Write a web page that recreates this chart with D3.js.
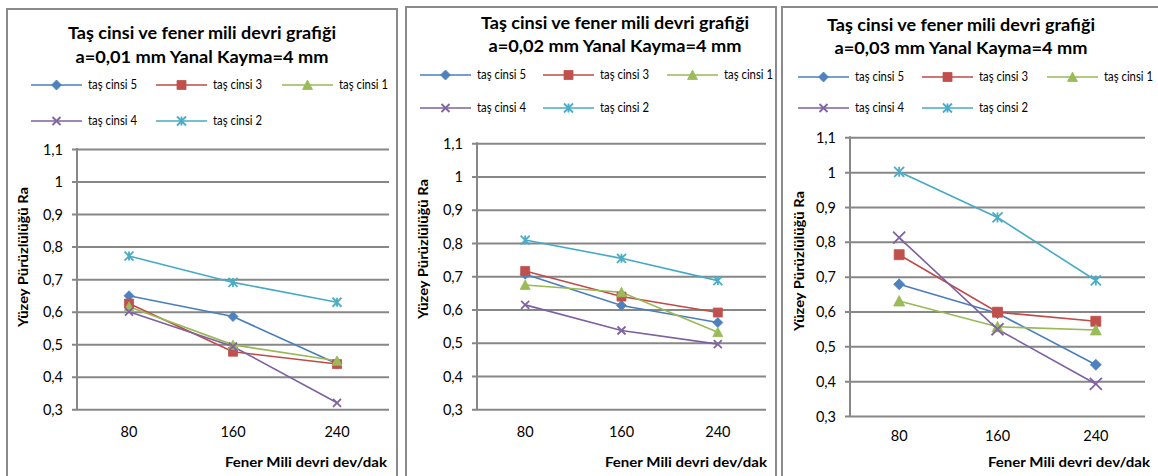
<!DOCTYPE html>
<html>
<head>
<meta charset="utf-8">
<script src="https://cdn.jsdelivr.net/npm/d3@7"></script>
<style>
  html, body { margin: 0; padding: 0; background: #fff; }
  svg { display: block; font-family: Lato, "Open Sans", sans-serif; }
</style>
</head>
<body>
<svg id="chart" width="1158" height="476"></svg>
<script>
// Categories (spindle speed, dev/dak) and y tick values
const categories = ["80", "160", "240"];
const yTicks = [0.3, 0.4, 0.5, 0.6, 0.7, 0.8, 0.9, 1.0, 1.1];
const seriesNames = ["taş cinsi 5", "taş cinsi 3", "taş cinsi 1", "taş cinsi 4", "taş cinsi 2"];

// Surface roughness Ra, a = 0,01 mm
const tas5_a001 = [0.649, 0.585, 0.44];
const tas3_a001 = [0.625, 0.477, 0.439];
const tas1_a001 = [0.615, 0.498, 0.449];
const tas4_a001 = [0.600, 0.493, 0.320];
const tas2_a001 = [0.771, 0.690, 0.629];

// a = 0,02 mm
const tas5_a002 = [0.706, 0.612, 0.561];
const tas3_a002 = [0.716, 0.639, 0.591];
const tas1_a002 = [0.674, 0.652, 0.532];
const tas4_a002 = [0.614, 0.537, 0.496];
const tas2_a002 = [0.809, 0.754, 0.687];

// a = 0,03 mm
const tas5_a003 = [0.678, 0.595, 0.447];
const tas3_a003 = [0.763, 0.598, 0.572];
const tas1_a003 = [0.630, 0.556, 0.547];
const tas4_a003 = [0.812, 0.549, 0.392];
const tas2_a003 = [1.001, 0.870, 0.689];

const titleLine1 = "Taş cinsi ve fener mili devri grafiği";
const titleLines2 = ["a=0,01 mm Yanal Kayma=4 mm", "a=0,02 mm Yanal Kayma=4 mm", "a=0,03 mm Yanal Kayma=4 mm"];
const xTitle = "Fener Mili devri dev/dak";
const yTitle = "Yüzey Pürüzlülüğü Ra";

// Series styling: line colour, marker fill/stroke, marker type
const styles = [
  { line: "#4A7EBB", fill: "#4F81BD", marker: "diamond" },
  { line: "#BE4B48", fill: "#C0504D", marker: "square" },
  { line: "#98B954", fill: "#9BBB59", marker: "triangle" },
  { line: "#7D60A0", fill: "#8064A2", marker: "x" },
  { line: "#46AAC5", fill: "#4BACC6", marker: "star" }
];

const panelData = [
  [tas5_a001, tas3_a001, tas1_a001, tas4_a001, tas2_a001],
  [tas5_a002, tas3_a002, tas1_a002, tas4_a002, tas2_a002],
  [tas5_a003, tas3_a003, tas1_a003, tas4_a003, tas2_a003]
];

// Layout of the three chart frames
const panels = [
  { bx: 7, by: 9, bw: 390, plot: { l: 77, r: 389, t: 149, b: 409.3 },
    title: { cx: 202, y1: 39, y2: 63 },
    legend: { rows: [85, 121], cols: [31, 156, 282] },
    yTitle: { x: 23, y: 257 }, xTitleRight: 387, xLabelY: 437, mk: 9, xMk: 8 },
  { bx: 406, by: 7, bw: 370, plot: { l: 477, r: 766, t: 143.3, b: 409.3 },
    title: { cx: 615, y1: 29, y2: 52 },
    legend: { rows: [75, 108], cols: [420, 543, 667] },
    yTitle: { x: 423, y: 249 }, xTitleRight: 767, xLabelY: 437, mk: 9, xMk: 8 },
  { bx: 782, by: 7, bw: 400, plot: { l: 850, r: 1145, t: 137.3, b: 416 },
    title: { cx: 961, y1: 31, y2: 54 },
    legend: { rows: [77, 108], cols: [798, 922, 1047] },
    yTitle: { x: 799, y: 261 }, xTitleRight: 1150, xLabelY: 441, mk: 10, xMk: 12 }
];

const gridColor = "#878787";

function markerPath(type, s) {
  const h = s / 2;
  switch (type) {
    case "diamond": return `M0,${-h-0.5}L${h+0.5},0L0,${h+0.5}L${-h-0.5},0Z`;
    case "square": return `M${-h},${-h}H${h}V${h}H${-h}Z`;
    case "triangle": return `M0,${-h-0.5}L${h+0.5},${h}L${-h-0.5},${h}Z`;
    case "x": return `M${-h},${-h}L${h},${h}M${h},${-h}L${-h},${h}`;
    case "star": return `M${-h},${-h}L${h},${h}M${h},${-h}L${-h},${h}M0,${-h}V${h}`;
  }
}

function drawMarker(g, st, x, y, s, xs) {
  const stroked = st.marker === "x" || st.marker === "star";
  g.append("path")
    .attr("transform", `translate(${x},${y})`)
    .attr("d", markerPath(st.marker, st.marker === "x" ? xs : s))
    .attr("fill", stroked ? "none" : st.fill)
    .attr("stroke", st.fill)
    .attr("stroke-width", stroked ? 1.8 : 0.8);
}

const svg = d3.select("#chart");

panels.forEach((p, pi) => {
  const g = svg.append("g");

  // frame
  g.append("rect")
    .attr("x", p.bx).attr("y", p.by)
    .attr("width", p.bw).attr("height", 500)
    .attr("fill", "#fff").attr("stroke", "#8a8a8a").attr("stroke-width", 2);

  // title
  g.append("text").attr("x", p.title.cx).attr("y", p.title.y1)
    .attr("text-anchor", "middle").attr("font-weight", "bold").attr("font-size", 17.5)
    .attr("textLength", 268).attr("lengthAdjust", "spacingAndGlyphs")
    .attr("fill", "#000").text(titleLine1);
  g.append("text").attr("x", p.title.cx).attr("y", p.title.y2)
    .attr("text-anchor", "middle").attr("font-weight", "bold").attr("font-size", 17.5)
    .attr("textLength", 253).attr("lengthAdjust", "spacingAndGlyphs")
    .attr("fill", "#000").text(titleLines2[pi]);

  // scales
  const x = d3.scaleBand().domain(categories).range([p.plot.l, p.plot.r]).padding(0);
  const cx = c => x(c) + x.bandwidth() / 2;
  const y = d3.scaleLinear().domain([0.3, 1.1]).range([p.plot.b, p.plot.t]);

  // horizontal gridlines with y axis ticks
  const yAxis = d3.axisLeft(y).tickValues(yTicks)
    .tickSize(-(p.plot.r - p.plot.l)).tickSizeOuter(0)
    .tickFormat(d => d3.format(".1~f")(d).replace(".", ","));
  const ya = g.append("g").attr("transform", `translate(${p.plot.l},0)`).call(yAxis);
  ya.select(".domain").remove();
  ya.selectAll(".tick line")
    .attr("x1", -5).attr("stroke", gridColor).attr("stroke-width", 2);
  ya.selectAll(".tick text")
    .attr("x", -14).attr("dy", "0.35em")
    .attr("font-size", 14.5).attr("font-family", "Lato, sans-serif").attr("fill", "#000");

  // vertical axis line
  g.append("line").attr("x1", p.plot.l).attr("x2", p.plot.l)
    .attr("y1", p.plot.t - 1).attr("y2", p.plot.b + 1)
    .attr("stroke", gridColor).attr("stroke-width", 2);

  // category labels
  const xAxis = d3.axisBottom(x).tickSize(0).tickSizeOuter(0);
  const xa = g.append("g").attr("transform", `translate(0,${p.plot.b})`).call(xAxis);
  xa.select(".domain").remove();
  xa.selectAll(".tick text")
    .attr("y", p.xLabelY - p.plot.b).attr("dy", 0)
    .attr("font-size", 14.5).attr("font-family", "Lato, sans-serif").attr("fill", "#000");

  // axis titles
  g.append("text").attr("x", p.xTitleRight).attr("y", 467)
    .attr("text-anchor", "end").attr("font-weight", "bold").attr("font-size", 14)
    .attr("textLength", 162).attr("lengthAdjust", "spacingAndGlyphs")
    .attr("fill", "#000").text(xTitle);
  g.append("text")
    .attr("transform", `translate(${p.yTitle.x + 5},${p.yTitle.y}) rotate(-90)`)
    .attr("text-anchor", "middle").attr("font-weight", "bold").attr("font-size", 14)
    .attr("textLength", 140).attr("lengthAdjust", "spacingAndGlyphs")
    .attr("fill", "#000").text(yTitle);

  // series lines
  const line = d3.line().x((d, i) => cx(categories[i])).y(d => y(d));
  const series = panelData[pi];
  series.forEach((vals, si) => {
    g.append("path").datum(vals).attr("d", line)
      .attr("fill", "none").attr("stroke", styles[si].line).attr("stroke-width", 1.6);
  });
  // markers
  series.forEach((vals, si) => {
    vals.forEach((v, i) => drawMarker(g, styles[si], cx(categories[i]), y(v), p.mk, p.xMk));
  });

  // legend
  seriesNames.forEach((name, si) => {
    const row = si < 3 ? 0 : 1;
    const col = si < 3 ? si : si - 3;
    const lx = p.legend.cols[col], ly = p.legend.rows[row];
    g.append("line").attr("x1", lx).attr("x2", lx + 51).attr("y1", ly).attr("y2", ly)
      .attr("stroke", styles[si].line).attr("stroke-width", 1.6);
    drawMarker(g, styles[si], lx + 25.5, ly, 9, 8);
    g.append("text").attr("x", lx + 57).attr("y", ly).attr("dy", "0.35em")
      .attr("font-size", 12.5).attr("textLength", 49).attr("lengthAdjust", "spacingAndGlyphs")
      .attr("fill", "#000").text(name);
  });
});
</script>
</body>
</html>
